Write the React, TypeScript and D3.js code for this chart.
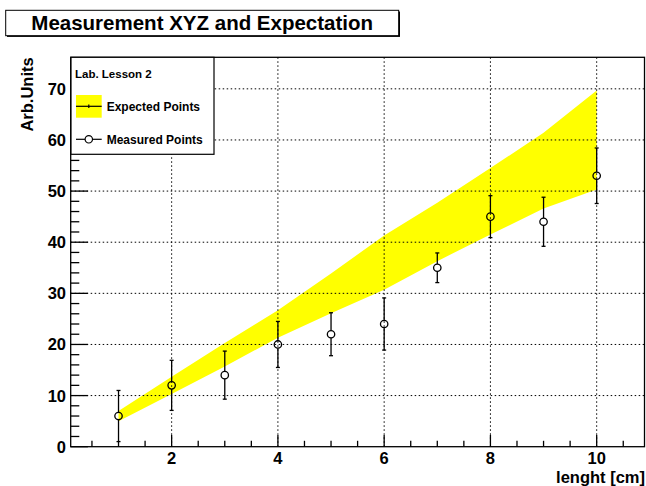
import React from "react";
import * as d3 from "d3";

const xVals = [1, 2, 3, 4, 5, 6, 7, 8, 9, 10];
const measuredY = [6, 12, 14, 20, 22, 24, 35, 45, 44, 53];
const measuredErr = [5, 4.9, 4.7, 4.5, 4.2, 5.1, 2.9, 4.1, 4.8, 5.43];
const expectedY = [6, 12, 18, 24, 30, 36, 42, 48, 54, 60];
const expectedErr = [1, 1.7, 2.3, 2.7, 3.9, 5.3, 5.7, 6.5, 7.4, 9.7];

const xMajorTicks = [2, 4, 6, 8, 10];
const yMajorTicks = [0, 10, 20, 30, 40, 50, 60, 70];

const titleText = "Measurement XYZ and Expectation";
const xTitle = "lenght [cm]";
const yTitle = "Arb.Units";
const legendHeader = "Lab. Lesson 2";
const legendExpected = "Expected Points";
const legendMeasured = "Measured Points";

const FONT = "'Liberation Sans', Arial, Helvetica, sans-serif";

export default function App() {
  const W = 646;
  const H = 486;
  const fl = 70.7, fr = 644.5, ft = 57.3, fb = 446.7;
  const x = d3.scaleLinear().domain([0.1, 10.9]).range([fl, fr]);
  const y = d3.scaleLinear().domain([0, 76.17]).range([fb, ft]);

  const bandData = xVals.map((v, i) => ({ x: v, lo: expectedY[i] - expectedErr[i], hi: expectedY[i] + expectedErr[i] }));
  const area = d3.area<any>().x((d) => x(d.x)).y0((d) => y(d.lo)).y1((d) => y(d.hi));

  const xMinor = d3.range(0.5, 10.9, 0.5).filter((v) => !xMajorTicks.includes(v));
  const yMinor = d3.range(0, 76, 2).filter((v) => v % 10 !== 0);

  const r = 3.7;
  const cap = 2;

  return (
    <svg width={W} height={H} style={{ position: "absolute", left: 0, top: 0, background: "#fff" }} fontFamily={FONT}>
      <rect x={0} y={0} width={W} height={H} fill="#fff" />
      {/* band */}
      <path d={area(bandData) || ""} fill="#ffff00" stroke="none" />
      {/* grid */}
      {xMajorTicks.map((t) => (
        <line key={"gx" + t} x1={x(t)} x2={x(t)} y1={ft} y2={fb} stroke="#000" strokeWidth={1} strokeDasharray="1.5,2.5" />
      ))}
      {yMajorTicks.filter((t) => t > 0).map((t) => (
        <line key={"gy" + t} x1={fl} x2={fr} y1={y(t)} y2={y(t)} stroke="#000" strokeWidth={1} strokeDasharray="1.5,2.5" />
      ))}
      {/* measured points */}
      {xVals.map((v, i) => {
        const cx = x(v);
        const cy = y(measuredY[i]);
        const top = y(measuredY[i] + measuredErr[i]);
        const bot = y(measuredY[i] - measuredErr[i]);
        return (
          <g key={"m" + i} stroke="#000" strokeWidth={1.3}>
            <line x1={cx} x2={cx} y1={top} y2={cy - r} />
            <line x1={cx} x2={cx} y1={cy + r} y2={bot} />
            <line x1={cx - cap} x2={cx + cap} y1={top} y2={top} />
            <line x1={cx - cap} x2={cx + cap} y1={bot} y2={bot} />
            <circle cx={cx} cy={cy} r={r} fill="none" />
          </g>
        );
      })}
      {/* frame */}
      <rect x={fl} y={ft} width={fr - fl} height={fb - ft} fill="none" stroke="#000" strokeWidth={1.3} />
      {/* x ticks */}
      {xMajorTicks.map((t) => (
        <line key={"xt" + t} x1={x(t)} x2={x(t)} y1={fb} y2={fb - 11.7} stroke="#000" strokeWidth={1.3} />
      ))}
      {xMinor.map((t) => (
        <line key={"xm" + t} x1={x(t)} x2={x(t)} y1={fb} y2={fb - 5.9} stroke="#000" strokeWidth={1.3} />
      ))}
      {/* y ticks */}
      {yMajorTicks.map((t) => (
        <line key={"yt" + t} x1={fl} x2={fl + 17.2} y1={y(t)} y2={y(t)} stroke="#000" strokeWidth={1.3} />
      ))}
      {yMinor.map((t) => (
        <line key={"ym" + t} x1={fl} x2={fl + 8.6} y1={y(t)} y2={y(t)} stroke="#000" strokeWidth={1.3} />
      ))}
      {/* tick labels */}
      {xMajorTicks.map((t) => (
        <text key={"xl" + t} x={x(t)} y={463.5} textAnchor="middle" fontSize={16.5} fontWeight="bold">{t}</text>
      ))}
      {yMajorTicks.map((t) => (
        <text key={"yl" + t} x={66} y={y(t) + 6} textAnchor="end" fontSize={16.5} fontWeight="bold">{t}</text>
      ))}
      {/* axis titles */}
      <text x={645} y={483} textAnchor="end" fontSize={16.5} fontWeight="bold">{xTitle}</text>
      <text transform={`translate(33,${ft}) rotate(-90)`} textAnchor="end" fontSize={16.5} fontWeight="bold">{yTitle}</text>
      {/* legend */}
      <g>
        <rect x={71} y={ft} width={143} height={97} fill="#fff" stroke="#000" strokeWidth={1.2} />
        <text x={75} y={77.5} fontSize={11.5} fontWeight="bold">{legendHeader}</text>
        <rect x={76} y={95} width={25.7} height={22.7} fill="#ffff00" />
        <line x1={76} x2={101.7} y1={106.3} y2={106.3} stroke="#000" strokeWidth={1.2} />
        <line x1={88.8} x2={88.8} y1={104.5} y2={108} stroke="#000" strokeWidth={1.2} />
        <text x={106.7} y={110.5} fontSize={12} fontWeight="bold">{legendExpected}</text>
        <line x1={76} x2={101.7} y1={139.3} y2={139.3} stroke="#000" strokeWidth={1.2} />
        <circle cx={88.8} cy={139.3} r={r} fill="#fff" stroke="#000" strokeWidth={1.2} />
        <text x={106.7} y={143.6} fontSize={12} fontWeight="bold">{legendMeasured}</text>
      </g>
      {/* title */}
      <rect x={7} y={11.5} width={393} height={25.4} fill="#000" />
      <rect x={5.7} y={10.3} width={393} height={25.4} fill="#fff" stroke="#000" strokeWidth={1} />
      <text x={202.2} y={29.5} textAnchor="middle" fontSize={20.5} fontWeight="bold">{titleText}</text>
    </svg>
  );
}
